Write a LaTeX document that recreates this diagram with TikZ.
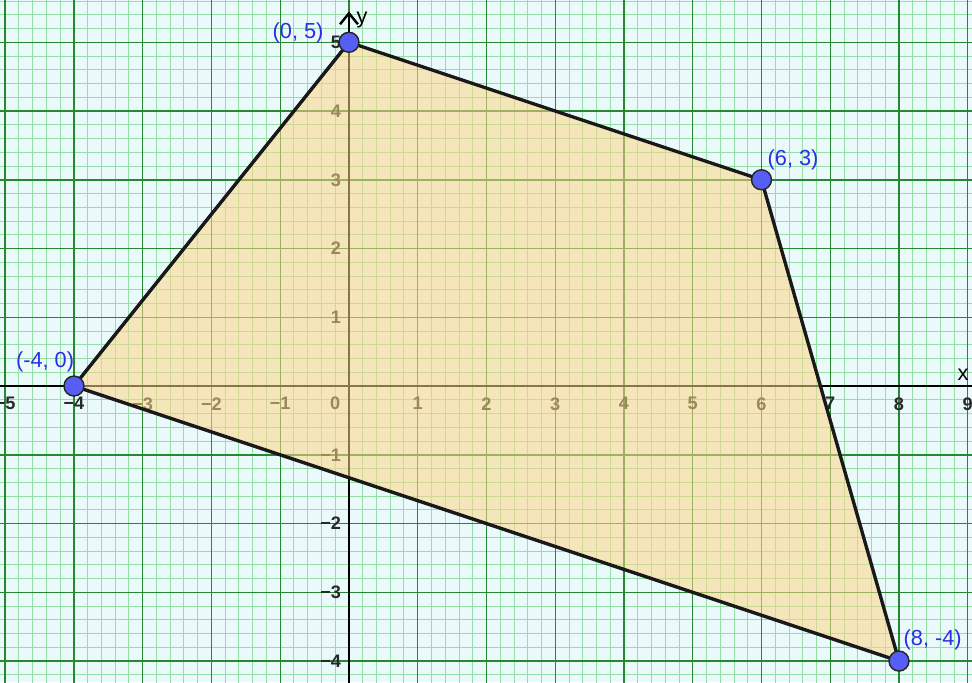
\documentclass[tikz,border=0pt]{standalone}
\usepackage{fontspec}
\setmainfont{Liberation Sans}
\usetikzlibrary{arrows.meta}
\definecolor{BgCyan}{RGB}{234,250,250}
\definecolor{MinorGrid}{RGB}{150,222,168}
\definecolor{MajorGrid}{RGB}{40,135,50}
\definecolor{RegionFill}{RGB}{255,212,135}
\definecolor{PtBlue}{RGB}{85,95,245}
\definecolor{LblBlue}{RGB}{45,45,230}
\definecolor{TickGray}{RGB}{40,40,40}

\begin{document}
\begin{tikzpicture}[
    vertex/.style={circle, draw=black!85, fill=PtBlue, line width=0.6pt,
        inner sep=0pt, minimum size=2.9mm},
    ptlabel/.style={text=LblBlue, font=\fontsize{9}{10}\selectfont},
    ticklabel/.style={text=TickGray, inner sep=0pt,
        font=\fontsize{7.5}{8}\selectfont\bfseries},
    axis/.style={black, line width=1pt},
    edge/.style={black!90, line width=1.4pt, line join=round}
]
% frame
\useasboundingbox (-5.076,-4.305) rectangle (9.062,5.615);
\clip (-5.076,-4.305) rectangle (9.062,5.615);
\fill[BgCyan] (-5.076,-4.305) rectangle (9.062,5.615);

% grid
\draw[MinorGrid, line width=0.4pt, step=0.2] (-5.2,-4.4) grid (9.2,5.8);
\draw[MajorGrid, line width=0.6pt, step=1] (-5.2,-4.4) grid (9.2,5.8);

% axes
\draw[axis] (-5.2,0) -- (9.2,0);
\draw[axis, -{Straight Barb[length=1.6mm, width=2.6mm]}] (0,-4.4) -- (0,5.45);
\node[font=\fontsize{9}{10}\selectfont] (ylab) at (0.19,5.32) {y};
\node[font=\fontsize{9}{10}\selectfont] (xlab) at (8.93,0.17) {x};

% tick labels
\foreach \i in {1,...,5}
    \node[ticklabel, anchor=north] (txm\i) at (-\i,-0.16) {−\i};
\foreach \i in {1,...,9}
    \node[ticklabel, anchor=north] (tx\i) at (\i,-0.16) {\i};
\foreach \j in {1,...,5}
    \node[ticklabel, anchor=east] (ty\j) at (-0.11,\j) {\j};
\foreach \j in {1,...,4}
    \node[ticklabel, anchor=east] (tym\j) at (-0.11,-\j) {−\j};
\node[ticklabel] (t0) at (-0.2,-0.25) {0};

% vertices of the region
\coordinate (A) at (-4,0);
\coordinate (B) at (0,5);
\coordinate (C) at (6,3);
\coordinate (D) at (8,-4);

\fill[RegionFill, fill opacity=0.55] (A) -- (B) -- (C) -- (D) -- cycle;
\draw[edge] (A) -- (B) -- (C) -- (D) -- cycle;

\node[vertex] (pA) at (A) {};
\node[vertex] (pB) at (B) {};
\node[vertex] (pC) at (C) {};
\node[vertex] (pD) at (D) {};

\node[ptlabel] (lA) at (-4.42,0.35) {(-4, 0)};
\node[ptlabel] (lB) at (-0.74,5.13) {(0, 5)};
\node[ptlabel] (lC) at (6.46,3.29) {(6, 3)};
\node[ptlabel] (lD) at (8.49,-3.69) {(8, -4)};
\end{tikzpicture}
\end{document}
